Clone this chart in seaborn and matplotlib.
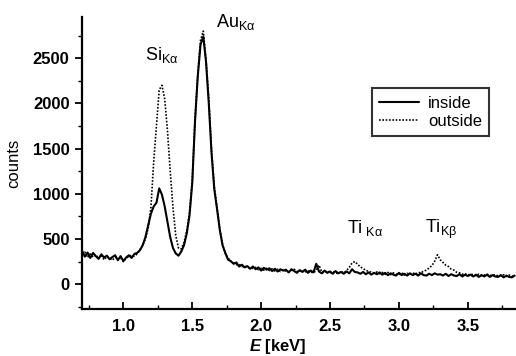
import numpy as np
import pandas as pd
import matplotlib
matplotlib.use("Agg")
import matplotlib.pyplot as plt
from matplotlib.ticker import MultipleLocator
import seaborn as sns

# energy channels, 0.70 ... 3.84 keV
energy = np.round(np.arange(0.70, 3.85, 0.02), 2)

inside = [
    370, 305, 350, 290, 345, 310, 280, 330, 295, 315,
    275, 300, 320, 265, 310, 255, 295, 320, 290, 335,
    345, 375, 430, 520, 650, 780, 860, 900, 1060, 990,
    860, 690, 520, 400, 340, 315, 360, 430, 560, 760,
    1120, 1800, 2300, 2650, 2740, 2460, 2000, 1450, 1050, 830,
    600, 430, 345, 270, 255, 225, 240, 195, 215, 185,
    200, 170, 195, 165, 185, 150, 180, 160, 175, 145,
    170, 140, 165, 150, 160, 130, 165, 145, 125, 155,
    135, 160, 125, 150, 130, 225, 140, 120, 150, 125,
    140, 115, 145, 120, 135, 115, 140, 120, 165, 135,
    130, 115, 135, 110, 130, 105, 125, 110, 130, 105,
    125, 100, 120, 105, 95, 125, 100, 115, 95, 120,
    100, 115, 95, 120, 100, 95, 115, 100, 120, 105,
    110, 95, 115, 90, 110, 95, 90, 110, 85, 105,
    90, 105, 85, 105, 80, 100, 85, 105, 80, 100,
    85, 80, 100, 75, 95, 80, 75, 95,
]

outside = [
    330, 355, 295, 335, 300, 325, 285, 315, 270, 305,
    290, 265, 300, 275, 290, 250, 285, 305, 320, 310,
    335, 380, 430, 500, 620, 850, 1350, 1750, 2150, 2200,
    2050, 1700, 1250, 850, 540, 400, 390, 460, 590, 790,
    1150, 1820, 2320, 2700, 2800, 2480, 2050, 1480, 1080, 850,
    610, 440, 340, 290, 250, 235, 215, 220, 195, 200,
    185, 180, 175, 185, 160, 175, 155, 175, 150, 170,
    145, 165, 140, 160, 145, 135, 155, 165, 140, 145,
    155, 130, 150, 135, 125, 155, 210, 135, 125, 150,
    120, 140, 125, 115, 140, 125, 150, 185, 235, 250,
    220, 190, 175, 150, 145, 130, 125, 135, 115, 130,
    110, 130, 105, 125, 110, 105, 125, 100, 120, 105,
    125, 110, 130, 125, 145, 155, 180, 205, 255, 325,
    270, 240, 210, 195, 165, 155, 130, 125, 110, 115,
    100, 110, 105, 95, 110, 95, 100, 110, 95, 100,
    105, 90, 95, 105, 85, 100, 85, 100,
]

peak_labels = ["Si$_{\\mathrm{Kα}}$", "Au$_{\\mathrm{Kα}}$",
               "Ti$_{\\ \\mathrm{Kα}}$", "Ti$_{\\mathrm{Kβ}}$"]
peak_x = [1.16, 1.67, 2.62, 3.19]
peak_y = [2480, 2850, 570, 570]

df = pd.DataFrame({"E": energy, "inside": inside, "outside": outside})

sns.set_style("ticks")
plt.rcParams["font.family"] = ["Liberation Sans", "DejaVu Sans"]
plt.rcParams["mathtext.fontset"] = "custom"
plt.rcParams["mathtext.rm"] = "Liberation Sans"
plt.rcParams["mathtext.it"] = "Liberation Sans:italic"
plt.rcParams["mathtext.bf"] = "Liberation Sans:bold"
plt.rcParams["mathtext.bfit"] = "Liberation Sans:italic:bold"
for key in ["text.color", "axes.labelcolor", "xtick.color", "ytick.color"]:
    plt.rcParams[key] = "black"

fig = plt.figure(figsize=(5.16, 3.56), dpi=100)
ax = fig.add_axes([0.159, 0.132, 0.841, 0.820])

sns.lineplot(data=df, x="E", y="inside", ax=ax, color="black",
             linewidth=1.5, label="inside")
sns.lineplot(data=df, x="E", y="outside", ax=ax, color="black",
             linewidth=1.2, linestyle=(0, (1, 1)), label="outside")

ax.set_xlim(0.70, 3.85)
ax.set_ylim(-275, 2955)
sns.despine(ax=ax)
for s in ["left", "bottom"]:
    ax.spines[s].set_linewidth(1.6)
    ax.spines[s].set_color("black")

ax.xaxis.set_major_locator(MultipleLocator(0.5))
ax.xaxis.set_minor_locator(MultipleLocator(0.25))
ax.yaxis.set_major_locator(MultipleLocator(500))
ax.yaxis.set_minor_locator(MultipleLocator(250))
ax.tick_params(axis="x", which="major", direction="in", length=5, width=1.3, pad=7)
ax.tick_params(axis="x", which="minor", direction="in", length=3, width=1.0)
ax.tick_params(axis="y", which="major", direction="out", length=5, width=1.3, pad=4)
ax.tick_params(axis="y", which="minor", direction="out", length=3, width=1.0)
ax.xaxis.set_major_formatter(plt.FormatStrFormatter("%.1f"))
for lab in ax.get_xticklabels() + ax.get_yticklabels():
    lab.set_fontweight("bold")
    lab.set_fontsize(12)

ax.set_ylabel("counts", fontsize=12, labelpad=8)
ax.set_xlabel(r"$\mathbfit{E}$ [keV]", fontsize=12, fontweight="bold")
ax.xaxis.set_label_coords(0.452, -0.095)

for lbl, x, y in zip(peak_labels, peak_x, peak_y):
    ax.text(x, y, lbl, fontsize=13, ha="left", va="baseline", clip_on=False)

leg = ax.legend(loc="upper left", bbox_to_anchor=(0.668, 0.757),
                borderaxespad=0, frameon=True, fancybox=False,
                fontsize=12, handlelength=2.4, handletextpad=0.5,
                borderpad=0.45, labelspacing=0.2)
leg.get_frame().set_edgecolor("black")
leg.get_frame().set_linewidth(1.5)

fig.savefig("out.png", dpi=100)
